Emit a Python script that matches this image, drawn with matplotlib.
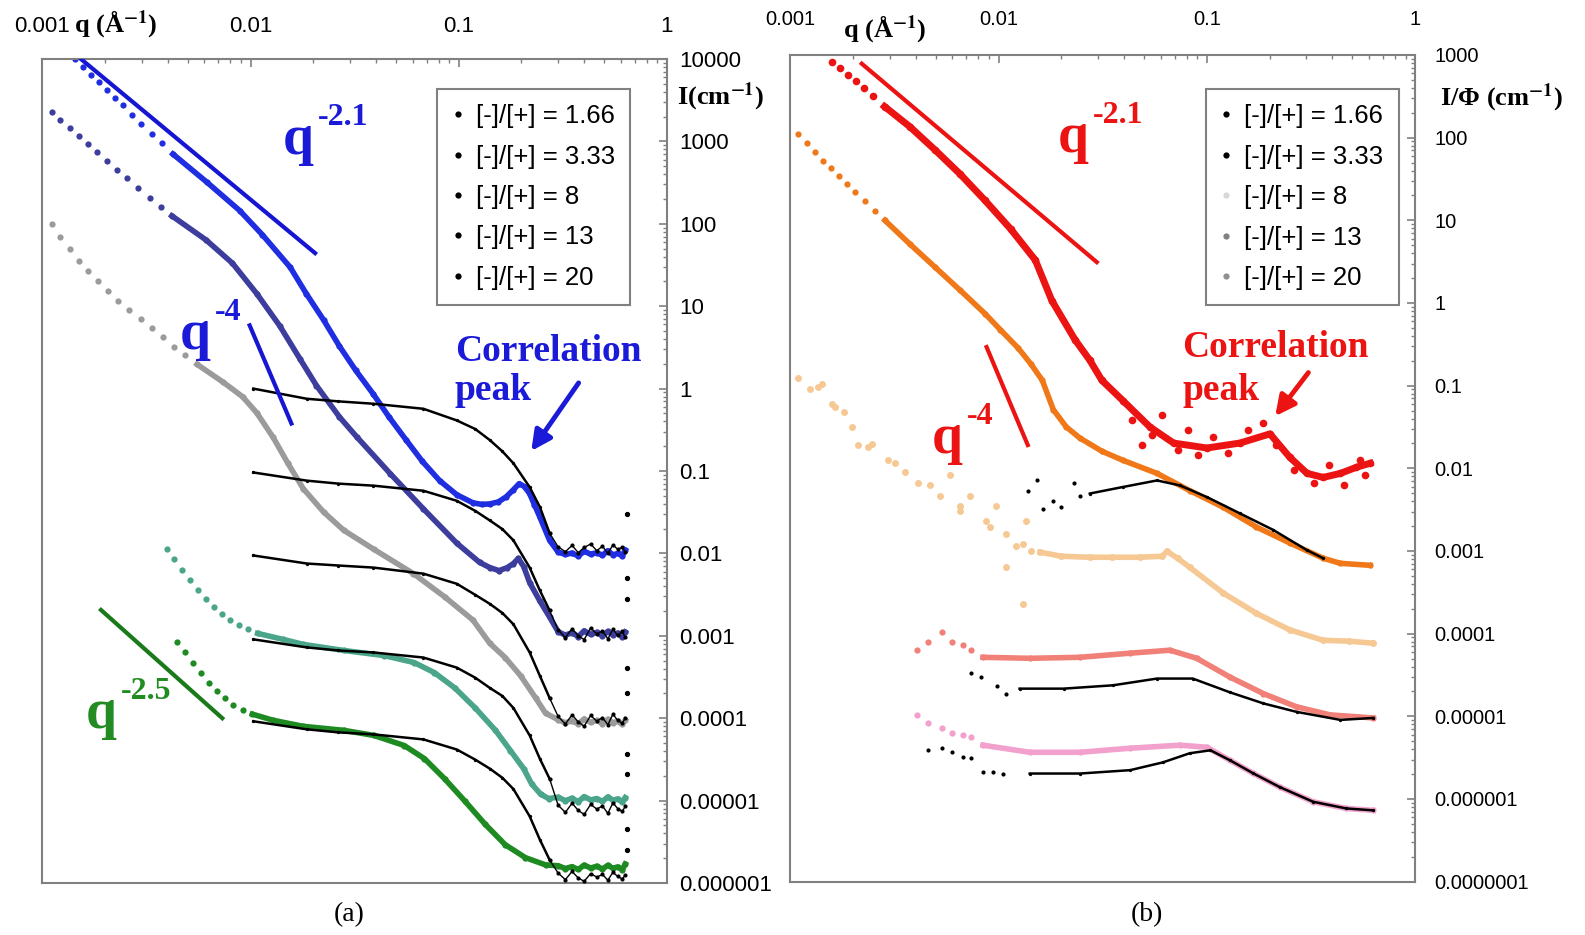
import numpy as np
import matplotlib
matplotlib.use('Agg')
import matplotlib.pyplot as plt
from matplotlib.lines import Line2D
from matplotlib.ticker import LogLocator, NullFormatter

plt.rcParams['font.family'] = 'Liberation Sans'
plt.rcParams['mathtext.fontset'] = 'stix'

# ---------------- common data ----------------
x_ticks = [0.001, 0.01, 0.1, 1]
x_labels = ['0.001', '0.01', '0.1', '1']
ya_ticks = [1e-6, 1e-5, 1e-4, 1e-3, 1e-2, 1e-1, 1, 10, 100, 1000, 10000]
ya_labels = ['0.000001', '0.00001', '0.0001', '0.001', '0.01', '0.1', '1', '10', '100', '1000', '10000']
yb_ticks = [1e-7, 1e-6, 1e-5, 1e-4, 1e-3, 1e-2, 1e-1, 1, 10, 100, 1000]
yb_labels = ['0.0000001', '0.000001', '0.00001', '0.0001', '0.001', '0.01', '0.1', '1', '10', '100', '1000']
legend_labels = ['[-]/[+] = 1.66', '[-]/[+] = 3.33', '[-]/[+] = 8', '[-]/[+] = 13', '[-]/[+] = 20']

# ---------------- panel (a) data ----------------
flat_q = [0.30, 0.325, 0.35, 0.375, 0.40, 0.43, 0.46, 0.49, 0.52, 0.55, 0.58, 0.61, 0.63]

blue_dot_q = [0.00143, 0.00156, 0.00171, 0.00187, 0.00205, 0.00224, 0.00244, 0.00270, 0.00299, 0.00334, 0.00374]
blue_dot_I = [10000, 7980, 6460, 5220, 4170, 3320, 2730, 2120, 1640, 1240, 959]
blue_q = [0.00423, 0.00618, 0.00885, 0.0114, 0.0155, 0.0185, 0.0224, 0.0267, 0.0320, 0.0387, 0.0462,
          0.0559, 0.0668, 0.0809, 0.0978, 0.117, 0.129, 0.141, 0.155, 0.169, 0.183, 0.195, 0.207, 0.219,
          0.231, 0.245, 0.273]
blue_I = [703, 318, 145, 73.3, 29.6, 14.2, 6.82, 3.27, 1.66, 0.869, 0.453,
          0.237, 0.131, 0.0764, 0.0515, 0.0411, 0.0393, 0.0399, 0.0422, 0.0487, 0.0593, 0.0703, 0.0646, 0.0530,
          0.0388, 0.0277, 0.0144]
blue_flat = [0.0104, 0.0097, 0.0101, 0.0093, 0.0106, 0.0098, 0.0102, 0.0095, 0.0108, 0.0096, 0.0100, 0.0094, 0.0110]

navy_dot_q = [0.00111, 0.00122, 0.00135, 0.00150, 0.00165, 0.00183, 0.00205, 0.00229, 0.00256, 0.00289, 0.00327, 0.00370]
navy_dot_I = [2300, 1840, 1470, 1170, 931, 743, 576, 447, 357, 269, 208, 162]
navy_q = [0.00418, 0.00611, 0.00818, 0.0107, 0.0138, 0.0173, 0.0207, 0.0267, 0.0324, 0.0468, 0.0676,
          0.0978, 0.126, 0.141, 0.156, 0.171, 0.183, 0.193, 0.205, 0.219, 0.245, 0.273]
navy_I = [125, 63.6, 33.2, 14.2, 5.77, 2.27, 1.09, 0.453, 0.258, 0.0931, 0.0347,
          0.0133, 0.00776, 0.00673, 0.00618, 0.00673, 0.00754, 0.00868, 0.00693, 0.00441, 0.00265, 0.00169]
navy_flat = [0.00112, 0.00102, 0.00109, 0.00098, 0.00115, 0.00104, 0.00110, 0.00100, 0.00113, 0.00103, 0.00108, 0.00097, 0.00111]

gray_dot_q = [0.00111, 0.00122, 0.00135, 0.00150, 0.00165, 0.00185, 0.00207, 0.00231, 0.00261, 0.00296,
              0.00334, 0.00378, 0.00428, 0.00484]
gray_dot_I = [100, 69.2, 49.3, 35.1, 26.5, 20.0, 15.1, 11.7, 9.06, 7.03, 5.45, 4.23, 3.18, 2.54]
gray_q = [0.00553, 0.00740, 0.00914, 0.0107, 0.0128, 0.0151, 0.0179, 0.0224, 0.0280, 0.0391, 0.0605,
          0.0855, 0.117, 0.141, 0.167, 0.198, 0.234, 0.261]
gray_I = [1.97, 1.19, 0.798, 0.508, 0.258, 0.124, 0.0610, 0.0318, 0.0191, 0.0112, 0.00569,
          0.00297, 0.00155, 0.000809, 0.000545, 0.000328, 0.000176, 0.000115]
gray_flat = [9.6e-5, 8.8e-5, 9.3e-5, 8.5e-5, 9.8e-5, 8.9e-5, 9.4e-5, 8.6e-5, 9.7e-5, 8.8e-5, 9.2e-5, 8.4e-5, 9.5e-5]

teal_dot_q = [0.00395, 0.00428, 0.00468, 0.00512, 0.00560, 0.00611, 0.00669, 0.00731, 0.00800, 0.00875, 0.00967]
teal_dot_I = [0.0112, 0.00844, 0.00636, 0.00480, 0.00362, 0.00281, 0.00224, 0.00184, 0.00155, 0.00134, 0.00120]
teal_q = [0.0108, 0.0143, 0.0179, 0.0280, 0.0437, 0.0611, 0.0764, 0.0957, 0.120, 0.150, 0.177, 0.205, 0.224, 0.247, 0.27]
teal_I = [0.00107, 0.000906, 0.000787, 0.000664, 0.000576, 0.000473, 0.000357, 0.000233, 0.000133,
          7.13e-5, 4.05e-5, 2.44e-5, 1.59e-5, 1.20e-5, 1.06e-5]
teal_flat = [1.10e-5, 1.00e-5, 1.07e-5, 9.7e-6, 1.12e-5, 1.02e-5, 1.06e-5, 9.8e-6, 1.11e-5, 1.01e-5, 1.05e-5, 9.6e-6, 1.09e-5]

green_dot_q = [0.00442, 0.00484, 0.00529, 0.00578, 0.00632, 0.00691, 0.00756, 0.00827, 0.00914]
green_dot_I = [0.000832, 0.000628, 0.000473, 0.000357, 0.000269, 0.000214, 0.000176, 0.000144, 0.000125]
green_q = [0.0102, 0.0128, 0.0179, 0.0280, 0.0391, 0.0547, 0.0684, 0.0855, 0.107, 0.134, 0.167, 0.209, 0.261]
green_I = [0.000112, 9.45e-5, 7.97e-5, 7.13e-5, 6.18e-5, 4.66e-5, 3.23e-5, 1.84e-5, 9.86e-6, 5.15e-6,
           2.92e-6, 2.03e-6, 1.66e-6]
green_flat = [1.62e-6, 1.50e-6, 1.58e-6, 1.46e-6, 1.65e-6, 1.52e-6, 1.60e-6, 1.48e-6, 1.64e-6, 1.51e-6, 1.57e-6, 1.45e-6, 1.70e-6]

fit_a_q = [0.0103, 0.0186, 0.0264, 0.0389, 0.0676, 0.0978, 0.120, 0.141, 0.162, 0.183, 0.219, 0.245, 0.273]
fit1_I = [1.00, 0.753, 0.70, 0.655, 0.569, 0.411, 0.323, 0.237, 0.173, 0.124, 0.0637, 0.0367, 0.0176]
fit1_flat = [0.0120, 0.0105, 0.0125, 0.0102, 0.0118, 0.0130, 0.0108, 0.0122, 0.0100, 0.0127, 0.0112, 0.0119, 0.0104]
fit2_I = [0.0960, 0.0764, 0.0703, 0.0664, 0.0576, 0.0435, 0.0328, 0.0251, 0.0197, 0.0144, 0.00673, 0.00356, 0.00203]
fit2_flat = [0.00118, 0.00095, 0.00122, 0.00100, 0.00090, 0.00125, 0.00105, 0.00115, 0.00092, 0.00120, 0.00101, 0.00113, 0.00096]
fit3_I = [0.00944, 0.00754, 0.00713, 0.00673, 0.00568, 0.00428, 0.00314, 0.00244, 0.00189, 0.00138, 0.000628, 0.000328, 0.000176]
fit3_flat = [1.05e-4, 8.5e-5, 1.10e-4, 9.0e-5, 8.0e-5, 1.08e-4, 9.2e-5, 1.02e-4, 8.3e-5, 1.12e-4, 9.4e-5, 8.7e-5, 1.0e-4]
fit4_I = [0.000906, 0.000723, 0.000664, 0.000628, 0.000545, 0.000411, 0.000310, 0.000233, 0.000186, 0.000133,
          6.18e-5, 3.23e-5, 1.84e-5]
fit4_flat = [8.8e-6, 7.2e-6, 9.3e-6, 7.6e-6, 6.8e-6, 9.0e-6, 7.9e-6, 8.6e-6, 7.0e-6, 9.4e-6, 8.0e-6, 7.4e-6, 8.5e-6]
fit5_I = [9.18e-5, 7.33e-5, 6.73e-5, 6.37e-5, 5.53e-5, 4.17e-5, 3.14e-5, 2.44e-5, 1.89e-5, 1.38e-5, 6.45e-6, 3.37e-6, 1.91e-6]
fit5_flat = [1.32e-6, 1.10e-6, 1.38e-6, 1.15e-6, 1.05e-6, 1.30e-6, 1.18e-6, 1.27e-6, 1.08e-6, 1.35e-6, 1.20e-6, 1.12e-6, 1.25e-6]

edge_q = [0.64, 0.64, 0.64, 0.64, 0.64, 0.64, 0.64, 0.64, 0.64]
edge_I = [0.0301, 0.00508, 0.00281, 0.000411, 0.000203, 3.72e-5, 2.11e-5, 4.47e-6, 2.54e-6]

slope21_a_q = [0.00153, 0.0204]
slope21_a_I = [10000, 44.1]
slope4_a_q = [0.00989, 0.0157]
slope4_a_I = [5.85, 0.377]
slope25_a_q = [0.00191, 0.00731]
slope25_a_I = [0.00206, 0.0001]

# ---------------- panel (b) data ----------------
red_dot_q = [0.00158, 0.00173, 0.00189, 0.00207, 0.00226, 0.00250]
red_dot_I = [821, 693, 570, 481, 395, 316]
red_q = [0.00283, 0.00374, 0.00495, 0.00654, 0.00860, 0.0114, 0.0150, 0.0180, 0.0233, 0.0274, 0.0313, 0.0395,
         0.0532, 0.0692, 0.100, 0.144, 0.201, 0.250, 0.303, 0.362, 0.438, 0.523, 0.608]
red_I = [238, 136, 71.0, 36.1, 17.4, 7.89, 3.30, 1.07, 0.357, 0.203, 0.116, 0.0659,
         0.0317, 0.0202, 0.0176, 0.0202, 0.0261, 0.0136, 0.00868, 0.00776, 0.00868, 0.0103, 0.0115]
red_noise_q = [0.0437, 0.0489, 0.0547, 0.0611, 0.0723, 0.0809, 0.0904, 0.107, 0.126, 0.158, 0.187, 0.214,
               0.261, 0.327, 0.387, 0.457, 0.541, 0.572]
red_noise_I = [0.0386, 0.0191, 0.0253, 0.0444, 0.0166, 0.0292, 0.0144, 0.0239, 0.0153, 0.0292, 0.0355, 0.0191,
               0.00946, 0.00656, 0.0109, 0.00620, 0.0125, 0.00821]

orange_dot_q = [0.00109, 0.00120, 0.00131, 0.00143, 0.00156, 0.00171, 0.00187, 0.00205, 0.00229, 0.00256]
orange_dot_I = [111, 86.3, 67.0, 52.0, 42.7, 34.1, 27.2, 21.7, 16.9, 13.1]
orange_q = [0.00284, 0.00374, 0.00495, 0.00654, 0.00860, 0.0102, 0.0124, 0.0143, 0.0162, 0.0183, 0.0211, 0.0245,
            0.0313, 0.0395, 0.0576, 0.0827, 0.120, 0.173, 0.250, 0.362, 0.438, 0.608]
orange_I = [10.0, 5.18, 2.71, 1.42, 0.742, 0.473, 0.285, 0.182, 0.116, 0.0512, 0.0317, 0.0233,
            0.0161, 0.0125, 0.00868, 0.00538, 0.00337, 0.00195, 0.00125, 0.000816, 0.000709, 0.000670]

peach_dot_q = [0.00109, 0.00124, 0.00135, 0.00141, 0.00158, 0.00164, 0.00180, 0.00198, 0.00212, 0.00236, 0.00246,
               0.00295, 0.00318, 0.00355, 0.00409, 0.00468, 0.00523, 0.00585, 0.00654, 0.00654, 0.00731, 0.00865,
               0.00908, 0.00967, 0.0109, 0.0121, 0.0131, 0.0135, 0.0143, 0.0109, 0.0131]
peach_dot_I = [0.122, 0.0918, 0.0951, 0.106, 0.0605, 0.0548, 0.0480, 0.0317, 0.0190, 0.0181, 0.0199,
               0.0125, 0.0115, 0.00904, 0.00656, 0.00620, 0.00468, 0.00821, 0.00353, 0.00307, 0.00468, 0.00231,
               0.00195, 0.00353, 0.00162, 0.00115, 0.00122, 0.00231, 0.000995, 0.000634, 0.000230]
peach_q = [0.0158, 0.0200, 0.0274, 0.0350, 0.0479, 0.0611, 0.0643, 0.0723, 0.0827, 0.120, 0.173, 0.250, 0.362, 0.483, 0.625]
peach_I = [0.000967, 0.000863, 0.000839, 0.000839, 0.000839, 0.000863, 0.00099, 0.000816, 0.000634, 0.000309,
           0.000176, 0.000111, 8.3e-5, 8.1e-5, 7.67e-5]

salmon_dot_q = [0.00405, 0.00457, 0.00532, 0.00594, 0.00676, 0.00739]
salmon_dot_I = [6.30e-5, 7.89e-5, 1.05e-4, 7.89e-5, 7.26e-5, 6.30e-5]
salmon_q = [0.00841, 0.0141, 0.0246, 0.0428, 0.0665, 0.0894, 0.129, 0.187, 0.270, 0.391, 0.630]
salmon_I = [5.17e-5, 5.03e-5, 5.17e-5, 5.80e-5, 6.30e-5, 5.03e-5, 2.98e-5, 1.88e-5, 1.30e-5, 1.04e-5, 9.55e-6]

pink_dot_q = [0.00405, 0.00457, 0.00532, 0.00594, 0.00676, 0.00739]
pink_dot_I = [1.04e-5, 8.18e-6, 7.21e-6, 6.27e-6, 5.93e-6, 5.60e-6]
pink_q = [0.00841, 0.0141, 0.0246, 0.0428, 0.0743, 0.100, 0.129, 0.167, 0.224, 0.324, 0.468, 0.630]
pink_I = [4.47e-6, 3.67e-6, 3.67e-6, 4.11e-6, 4.47e-6, 4.22e-6, 2.94e-6, 2.04e-6, 1.39e-6, 9.24e-7, 7.67e-7, 7.28e-7]

fit_or_dot_q = [0.0138, 0.0153, 0.0164, 0.0183, 0.0200, 0.0229, 0.0246]
fit_or_dot_I = [0.00538, 0.00713, 0.00324, 0.00406, 0.00343, 0.00656, 0.00468]
fit_or_q = [0.0274, 0.0395, 0.0576, 0.0743, 0.100, 0.144, 0.208, 0.303, 0.362]
fit_or_I = [0.00495, 0.00594, 0.00713, 0.00620, 0.00449, 0.00285, 0.00180, 0.00102, 0.000816]

fit_sa_dot_q = [0.00739, 0.00826, 0.00977, 0.0109]
fit_sa_dot_I = [3.35e-5, 2.99e-5, 2.31e-5, 1.88e-5]
fit_sa_q = [0.0126, 0.0205, 0.0354, 0.0576, 0.0855, 0.129, 0.187, 0.270, 0.438, 0.630]
fit_sa_I = [2.16e-5, 2.16e-5, 2.37e-5, 2.86e-5, 2.86e-5, 1.95e-5, 1.43e-5, 1.13e-5, 9.04e-6, 9.55e-6]

fit_pi_dot_q = [0.00457, 0.00532, 0.00594, 0.00676, 0.00739, 0.00841, 0.00940, 0.0105]
fit_pi_dot_I = [3.88e-6, 4.11e-6, 3.67e-6, 3.23e-6, 3.10e-6, 2.11e-6, 2.11e-6, 2.03e-6]
fit_pi_q = [0.0141, 0.0246, 0.0428, 0.0615, 0.0827, 0.104, 0.129, 0.167, 0.224, 0.324, 0.468, 0.630]
fit_pi_I = [2.03e-6, 2.03e-6, 2.23e-6, 2.77e-6, 3.57e-6, 3.88e-6, 2.94e-6, 2.04e-6, 1.39e-6, 9.24e-7, 7.67e-7, 7.28e-7]

slope21_b_q = [0.00220, 0.0296]
slope21_b_I = [785, 3.12]
slope4_b_q = [0.00875, 0.0138]
slope4_b_I = [0.293, 0.0191]

# ---------------- colours ----------------
c_blue, c_navy, c_gray, c_teal, c_green = '#1f2ee0', '#3d3d9e', '#9b9b9b', '#4aa58a', '#1e8a22'
c_red, c_orange, c_peach, c_salmon, c_pink = '#ec1313', '#f07818', '#f6c894', '#f08078', '#f2a0cc'
frame_col = '#808080'

fig = plt.figure(figsize=(15.85, 9.35), dpi=100)
ax1 = fig.add_axes([0.0268, 0.0556, 0.3940, 0.8813])
ax2 = fig.add_axes([0.4987, 0.0571, 0.3941, 0.8841])


def series(ax, dq, dI, q, I, color, ms=4.5, lw=4.0, z=2):
    ax.plot(dq, dI, ls='none', marker='o', ms=ms, color=color, mec='none', zorder=z)
    ax.plot(q, I, '-', marker='o', ms=ms, lw=lw, color=color, mec='none', zorder=z)


def fit(ax, q, I, z=3):
    ax.plot(q, I, '-', marker='o', ms=2.4, lw=1.8, color='black', mec='none', zorder=z)


def fit_flat(ax, q, I, z=3):
    ax.plot(q, I, '-', marker='o', ms=3.0, lw=1.0, color='black', mec='none', zorder=z)


# panel (a)
series(ax1, blue_dot_q, blue_dot_I, blue_q + flat_q, blue_I + blue_flat, c_blue)
series(ax1, navy_dot_q, navy_dot_I, navy_q + flat_q, navy_I + navy_flat, c_navy)
series(ax1, gray_dot_q, gray_dot_I, gray_q + flat_q, gray_I + gray_flat, c_gray)
series(ax1, teal_dot_q, teal_dot_I, teal_q + flat_q, teal_I + teal_flat, c_teal)
series(ax1, green_dot_q, green_dot_I, green_q + flat_q, green_I + green_flat, c_green)
for f_I, f_flat in ((fit1_I, fit1_flat), (fit2_I, fit2_flat), (fit3_I, fit3_flat),
                    (fit4_I, fit4_flat), (fit5_I, fit5_flat)):
    fit(ax1, fit_a_q, f_I)
    fit_flat(ax1, fit_a_q[-1:] + flat_q, f_I[-1:] + f_flat)
ax1.plot(edge_q, edge_I, ls='none', marker='o', ms=2.8, color='black', zorder=3)

ax1.plot(slope21_a_q, slope21_a_I, color='#1515d2', lw=3, zorder=4)
ax1.plot(slope4_a_q, slope4_a_I, color='#1515d2', lw=3, zorder=4)
ax1.plot(slope25_a_q, slope25_a_I, color='#1a7a1a', lw=3, zorder=4)

# panel (b)
series(ax2, red_dot_q, red_dot_I, red_q, red_I, c_red, ms=5.5, lw=5)
ax2.plot(red_noise_q, red_noise_I, ls='none', marker='o', ms=5.5, color=c_red, mec='none', zorder=2)
series(ax2, orange_dot_q, orange_dot_I, orange_q, orange_I, c_orange)
series(ax2, peach_dot_q, peach_dot_I, peach_q, peach_I, c_peach, ms=5)
series(ax2, salmon_dot_q, salmon_dot_I, salmon_q, salmon_I, c_salmon)
series(ax2, pink_dot_q, pink_dot_I, pink_q, pink_I, c_pink)
for dq, dI, q, I in ((fit_or_dot_q, fit_or_dot_I, fit_or_q, fit_or_I),
                     (fit_sa_dot_q, fit_sa_dot_I, fit_sa_q, fit_sa_I),
                     (fit_pi_dot_q, fit_pi_dot_I, fit_pi_q, fit_pi_I)):
    ax2.plot(dq, dI, ls='none', marker='o', ms=3.0, color='black', mec='none', zorder=3)
    fit(ax2, q, I)

ax2.plot(slope21_b_q, slope21_b_I, color=c_red, lw=3, zorder=4)
ax2.plot(slope4_b_q, slope4_b_I, color=c_red, lw=3, zorder=4)

# ---------------- axes styling ----------------
for ax, yt, yl, ypad, xpad, lsize, ylim in ((ax1, ya_ticks, ya_labels, 9, 16, 16, (1e-6, 1e4)),
                                            (ax2, yb_ticks, yb_labels, 14, 19, 14.5, (1e-7, 1e3))):
    ax.set_xscale('log')
    ax.set_yscale('log')
    ax.set_xlim(1e-3, 1)
    ax.set_ylim(*ylim)
    ax.set_xticks(x_ticks, x_labels)
    ax.set_yticks(yt, yl)
    ax.xaxis.set_minor_locator(LogLocator(base=10, subs=np.arange(2, 10), numticks=100))
    ax.yaxis.set_minor_locator(LogLocator(base=10, subs=np.arange(2, 10), numticks=100))
    ax.xaxis.set_minor_formatter(NullFormatter())
    ax.yaxis.set_minor_formatter(NullFormatter())
    ax.tick_params(which='both', direction='in', color=frame_col, labelcolor='black',
                   top=True, bottom=False, left=False, right=True,
                   labeltop=True, labelbottom=False, labelleft=False, labelright=True,
                   labelsize=lsize)
    ax.tick_params(which='major', length=6, width=1.2)
    ax.tick_params(which='minor', length=3, width=1.0)
    ax.tick_params(axis='x', which='major', pad=xpad)
    ax.tick_params(axis='y', which='major', pad=ypad)
    for s in ax.spines.values():
        s.set_color(frame_col)
        s.set_linewidth(1.5)

# legends
legend_cols_a = ['black'] * 5
legend_cols_b = ['black', 'black', '#d8d8d8', '#808080', '#909090']
for ax, cols, anchor in ((ax1, legend_cols_a, (0.632, 0.964)), (ax2, legend_cols_b, (0.665, 0.959))):
    handles = [Line2D([], [], ls='none', marker='o', ms=4.5, color=c, mec='none') for c in cols]
    leg = ax.legend(handles, legend_labels, loc='upper left', bbox_to_anchor=anchor,
                    fontsize=18.5, handlelength=0.4, handletextpad=0.5, labelspacing=0.64,
                    borderpad=0.6, borderaxespad=0, fancybox=False, framealpha=1,
                    edgecolor=frame_col)
    leg.get_frame().set_linewidth(1.5)
    leg.set_zorder(10)


def power_label(ax, q, I, exponent, color):
    ax.text(q, I, 'q', color=color, fontsize=40, fontweight='bold', family='Liberation Serif',
            ha='left', va='baseline', zorder=6)
    ax.annotate(exponent, xy=(q, I), xytext=(25, 21), textcoords='offset points',
                color=color, fontsize=23, fontweight='bold', family='Liberation Serif',
                ha='left', va='baseline', zorder=6)


def peak_label(ax, q, I1, I2, qa, Ia, qt, It, color):
    for txt, I in (('Correlation', I1), ('peak', I2)):
        ax.text(q, I, txt, color=color, fontsize=27, fontweight='bold',
                family='Liberation Serif', ha='left', va='baseline')
    ax.annotate('', xy=(qa, Ia), xytext=(qt, It),
                arrowprops=dict(arrowstyle='-|>', color=color, lw=3.5, mutation_scale=30))


# annotations panel (a)
power_label(ax1, 0.0143, 703, '-2.1', '#1a1ad8')
power_label(ax1, 0.00457, 3.01, '-4', '#1a1ad8')
power_label(ax1, 0.00162, 7.54e-5, '-2.5', '#228b22')
peak_label(ax1, 0.0957, 2.14, 0.733, 0.219, 0.164, 0.383, 1.25, '#1a1ad8')

# annotations panel (b)
power_label(ax2, 0.0193, 67.0, '-2.1', c_red)
power_label(ax2, 0.00479, 0.0153, '-4', c_red)
peak_label(ax2, 0.0764, 0.221, 0.0678, 0.209, 0.0402, 0.313, 0.153, c_red)

# axis titles
lab = dict(fontsize=19, fontweight='bold', family='Liberation Serif', va='center')
fig.text(0.0733, 0.973, r'q (Å$^{\mathbf{-1}}$)', ha='center', **lab)
fig.text(0.558, 0.968, r'q (Å$^{\mathbf{-1}}$)', ha='center', **lab)
fig.text(0.4273, 0.897, r'I(cm$^{\mathbf{-1}}$)', ha='left', **lab)
fig.text(0.9088, 0.895, r'I/Φ (cm$^{\mathbf{-1}}$)', ha='left', **lab)
fig.text(0.220, 0.0216, '(a)', ha='center', va='center', fontsize=20, family='Liberation Serif')
fig.text(0.7239, 0.0216, '(b)', ha='center', va='center', fontsize=20, family='Liberation Serif')

plt.savefig('out.png', dpi=100)
